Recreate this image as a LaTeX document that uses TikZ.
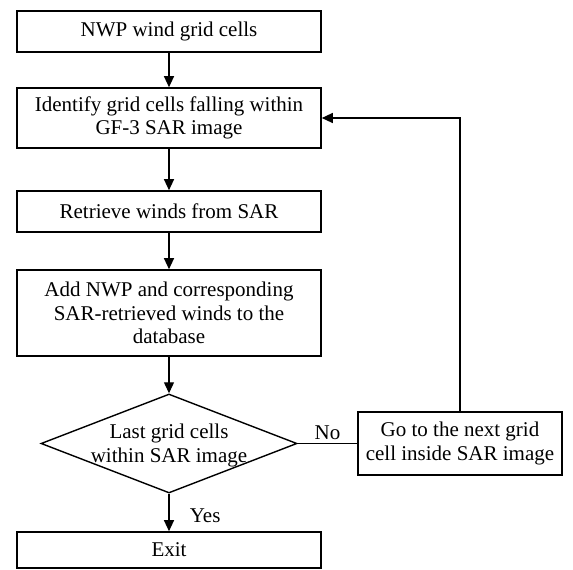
\documentclass[tikz,border=0pt]{standalone}
\usepackage{fontspec}
\setmainfont{Liberation Serif}
\usetikzlibrary{arrows.meta,shapes.geometric}

\begin{document}
\begin{tikzpicture}[%
    x=1pt, y=-1pt,
    font=\fontsize{21}{23.3}\selectfont,
    stepbox/.style={
        draw,
        rectangle,
        line width=1.6pt,
        minimum width=304,
        inner sep=1pt,
        align=center,
        anchor=center,
        },
    sidebox/.style={
        stepbox,
        minimum width=204,
        minimum height=63,
        },
    decision/.style={
        draw,
        diamond,
        line width=1.4pt,
        minimum width=256,
        minimum height=99,
        inner sep=0,
        anchor=center,
        },
    flow/.style={
        line width=1.2pt,
        -{Triangle[length=11pt,width=10pt]},
        },
    plain/.style={
        line width=1.2pt,
        },
]

\useasboundingbox (0,0) rectangle (573,570);

\node[stepbox, minimum height=41] (grid) at (169,31.5) {NWP wind grid cells};
\node[stepbox, minimum height=60] (ident) at (169,118)
    {Identify grid cells falling within\\GF-3 SAR image};
\node[stepbox, minimum height=41] (retr) at (169,211.5) {Retrieve winds from SAR};
\node[stepbox, minimum height=86] (add) at (169,313)
    {Add NWP and corresponding\\SAR-retrieved winds to the\\database};
\node[decision,
      label={[align=center, yshift=-2pt]center:Last grid cells\\within SAR image}]
      (last) at (169,443.5) {};
\node[sidebox] (next) at (460,443.5) {Go to the next grid\\cell inside SAR image};
\node[stepbox, minimum height=36] (exit) at (169,550) {Exit};

\draw[flow] (grid) -- (ident);
\draw[flow] (ident) -- (retr);
\draw[flow] (retr) -- (add);
\draw[flow] (add) -- (last.north);
\draw[flow] (last.south) -- node[right=17pt, yshift=-3pt] {Yes} (exit);
\draw[plain] (last.east) -- node[above, inner sep=3pt] {No} (next);
\draw[flow] (next.north) |- (ident.east);

\end{tikzpicture}
\end{document}
